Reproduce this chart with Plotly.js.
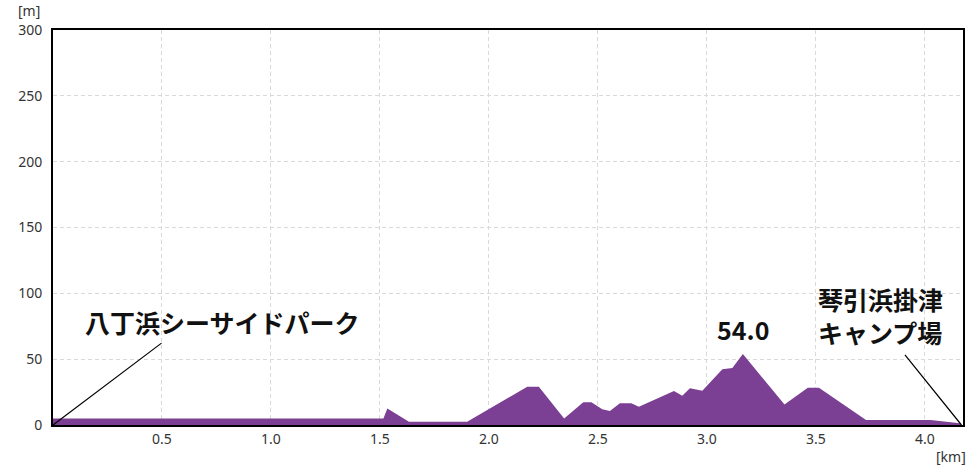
<!DOCTYPE html>
<html>
<head>
<meta charset="utf-8">
<script src="https://cdn.plot.ly/plotly-3.0.1.min.js"></script>
<style>html,body{margin:0;padding:0;background:#fff;}#chart{width:969px;height:468px;}</style>
</head>
<body>
<div id="chart"></div>
<script>
// Distance along course [km]
var distKm = [0, 1.516, 1.534, 1.633, 1.90, 2.176, 2.229, 2.345, 2.433, 2.47, 2.52, 2.555, 2.601, 2.653, 2.688, 2.849, 2.887, 2.922, 2.979, 3.071, 3.117, 3.165, 3.356, 3.463, 3.514, 3.73, 4.026, 4.16, 4.168];
// Elevation [m]
var elevM = [5, 5, 12.5, 2.5, 2.5, 29, 29, 5, 17.2, 17.2, 11.9, 10.6, 16.5, 16.5, 13.9, 25.8, 22.3, 27.9, 26, 42.3, 43.3, 54.0, 15.5, 28.2, 28.2, 3.8, 3.8, 1.3, 0];
var xTickVals = [0.5, 1.0, 1.5, 2.0, 2.5, 3.0, 3.5, 4.0];
var xTickText = ["0.5", "1.0", "1.5", "2.0", "2.5", "3.0", "3.5", "4.0"];
var yTickVals = [0, 50, 100, 150, 200, 250, 300];
var yTickText = ["0", "50", "100", "150", "200", "250", "300"];
var startName = "八丁浜シーサイドパーク";
var goalName = "琴引浜掛津<br>キャンプ場";
var peakLabel = "54.0";

var maxIdx = elevM.indexOf(Math.max.apply(null, elevM));
var lastIdx = distKm.length - 1;

var trace = {
  x: distKm, y: elevM, type: 'scatter', mode: 'lines',
  fill: 'tozeroy', fillcolor: '#7b3f93',
  line: {width: 0, color: '#7b3f93'}, hoverinfo: 'skip'
};

var labelFont = {family: '"Noto Sans CJK JP", "Noto Sans", sans-serif', size: 25, color: '#111', weight: 'bold'};
var tickFont = {family: '"Noto Sans", "Open Sans", sans-serif', size: 14, color: '#333'};

var layout = {
  width: 969, height: 468,
  margin: {l: 53, r: 6, t: 30, b: 43},
  paper_bgcolor: '#fff', plot_bgcolor: '#fff',
  showlegend: false,
  xaxis: {
    range: [0, 4.175], tickvals: xTickVals, ticktext: xTickText,
    showgrid: true, gridcolor: '#d9d9d9', griddash: '4px,3px', gridwidth: 1,
    showline: true, linecolor: '#000', linewidth: 2, mirror: true,
    zeroline: false, ticks: '', tickfont: tickFont, fixedrange: true
  },
  yaxis: {
    range: [0, 300], tickvals: yTickVals, ticktext: yTickText,
    showgrid: true, gridcolor: '#d9d9d9', griddash: '4px,3px', gridwidth: 1,
    showline: true, linecolor: '#000', linewidth: 2, mirror: true,
    zeroline: false, ticks: '', tickfont: tickFont, fixedrange: true,
    ticklabelstandoff: 6
  },
  annotations: [
    {xref: 'paper', yref: 'paper', x: -0.012, y: 1.0, yshift: 8, xanchor: 'right', yanchor: 'bottom',
     text: '[m]', showarrow: false, font: tickFont},
    {xref: 'paper', yref: 'paper', x: 1.005, y: 0, yshift: -20, xanchor: 'right', yanchor: 'top',
     text: '[km]', showarrow: false, font: tickFont},
    {x: distKm[maxIdx], y: elevM[maxIdx], yshift: 5, xanchor: 'center', yanchor: 'bottom',
     text: peakLabel, showarrow: false, font: labelFont},
    {x: distKm[0], y: 0, text: ' ', font: {size: 1}, showarrow: true, arrowhead: 0, arrowwidth: 1.2,
     arrowcolor: '#000', ax: 110, ay: -83, standoff: 0, startstandoff: 0},
    {xref: 'paper', yref: 'y', x: 0.0335, y: 78, xanchor: 'left', yanchor: 'middle',
     text: startName, showarrow: false, font: labelFont},
    {x: distKm[lastIdx], y: 0, text: ' ', font: {size: 1}, showarrow: true, arrowhead: 0, arrowwidth: 1.2,
     arrowcolor: '#000', ax: -58, ay: -72, standoff: 0, startstandoff: 0},
    {xref: 'paper', yref: 'y', x: 0.839, y: 83, xanchor: 'left', yanchor: 'middle', align: 'left',
     text: goalName, showarrow: false, font: labelFont}
  ]
};

Plotly.newPlot('chart', [trace], layout, {staticPlot: true, displayModeBar: false});
</script>
</body>
</html>
